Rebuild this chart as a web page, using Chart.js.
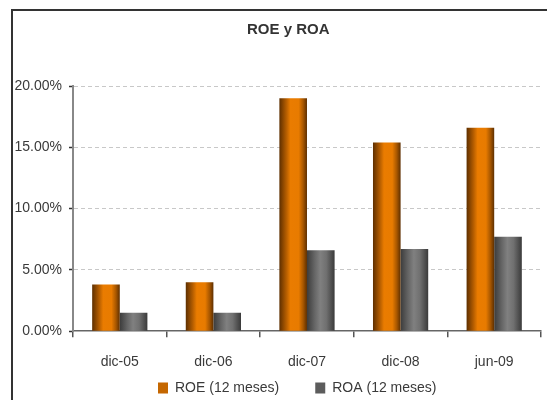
<!DOCTYPE html>
<html>
<head>
<meta charset="utf-8">
<script src="https://cdn.jsdelivr.net/npm/chart.js@4/dist/chart.umd.min.js"></script>
<style>
  html, body { margin: 0; padding: 0; background: #fff; overflow: hidden; }
</style>
</head>
<body>
<canvas id="c" width="547" height="400"></canvas>
<script>
// ---- data ----
const categories = ['dic-05', 'dic-06', 'dic-07', 'dic-08', 'jun-09'];
const roeValues = [3.8, 4.0, 19.0, 15.4, 16.6];
const roaValues = [1.5, 1.5, 6.6, 6.7, 7.7];
const seriesNames = ['ROE (12 meses)', 'ROA (12 meses)'];
const yTickValues = [0, 5, 10, 15, 20];
const chartTitle = 'ROE y ROA';

// ---- styles ----
const gradientStops = [
  [[0, '#5e2f00'], [0.25, '#b45d00'], [0.4, '#ea7c00'], [0.7, '#e87b00'], [0.86, '#a85700'], [1, '#5e2f00']],
  [[0, '#3c3c3c'], [0.28, '#666666'], [0.48, '#808080'], [0.7, '#707070'], [1, '#3a3a3a']]
];
const legendColors = ['#c56700', '#5c5c5c'];
const textColor = '#3a3a3a';
const FONT = 'Liberation Sans, Arial, sans-serif';

const barGradient = {
  id: 'barGradient',
  beforeDatasetsDraw(chart) {
    const ctx = chart.ctx;
    chart.data.datasets.forEach((ds, di) => {
      const meta = chart.getDatasetMeta(di);
      meta.data.forEach(el => {
        const p = el.getProps(['x', 'width'], true);
        const left = p.x - p.width / 2;
        const g = ctx.createLinearGradient(left, 0, left + p.width, 0);
        gradientStops[di].forEach(s => g.addColorStop(s[0], s[1]));
        el.options = Object.assign({}, el.options, { backgroundColor: g });
      });
    });
  }
};

const frame = {
  id: 'frame',
  beforeDraw(chart) {
    const ctx = chart.ctx;
    ctx.save();
    ctx.fillStyle = '#fff';
    ctx.fillRect(0, 0, chart.width, chart.height);
    ctx.strokeStyle = '#333';
    ctx.lineWidth = 2;
    ctx.beginPath();
    ctx.moveTo(12, chart.height);
    ctx.lineTo(12, 10);
    ctx.lineTo(chart.width, 10);
    ctx.stroke();
    ctx.restore();
  }
};

// offsets of the title and legend blocks relative to the default centred layout
const layoutTweaks = {
  id: 'layoutTweaks',
  afterLayout(chart) {
    const t = chart.titleBlock;
    if (t) { t.left += 14; t.right += 14; }
    const lg = chart.legend;
    if (lg) {
      lg.bottom = chart.height;
      lg.top = chart.height - 55;
      lg.height = 55;
      lg.left += 23; lg.right += 23;
    }
  }
};

new Chart(document.getElementById('c'), {
  type: 'bar',
  data: {
    labels: categories,
    datasets: [
      { label: seriesNames[0], data: roeValues, backgroundColor: legendColors[0], borderWidth: 0 },
      { label: seriesNames[1], data: roaValues, backgroundColor: legendColors[1], borderWidth: 0 }
    ]
  },
  options: {
    responsive: false,
    animation: false,
    events: [],
    layout: { padding: { left: 7.5, right: 6, top: 0, bottom: 0 } },
    datasets: { bar: { categoryPercentage: 0.59, barPercentage: 1.0 } },
    plugins: {
      title: {
        display: true,
        text: chartTitle,
        color: '#333',
        font: { family: FONT, size: 15, weight: 'bold' },
        padding: { top: 21, bottom: 47 }
      },
      legend: {
        position: 'bottom',
        maxHeight: 13,
        labels: {
          color: textColor,
          font: { family: FONT, size: 14 },
          boxWidth: 10,
          boxHeight: 11,
          padding: 36
        }
      },
      tooltip: { enabled: false }
    },
    scales: {
      x: {
        grid: { drawOnChartArea: false, drawTicks: true, tickLength: 6, tickColor: '#555', lineWidth: 1.5 },
        border: { display: true, color: '#666', width: 1.5 },
        ticks: { color: textColor, padding: 16.5, font: { family: FONT, size: 14 } }
      },
      y: {
        min: yTickValues[0],
        max: yTickValues[yTickValues.length - 1],
        afterBuildTicks(scale) { scale.ticks = yTickValues.map(v => ({ value: v })); },
        grid: {
          color: ctx => (ctx.tick && ctx.tick.value === 0) ? 'rgba(0,0,0,0)' : '#c8c8c8',
          lineWidth: 1,
          drawTicks: true,
          tickLength: 4,
          tickColor: '#333',
          tickWidth: 1.5
        },
        border: { display: true, color: '#888', width: 2, dash: [4, 3] },
        ticks: {
          color: textColor,
          padding: 7,
          font: { family: FONT, size: 14 },
          callback: v => v.toFixed(2) + '%'
        }
      }
    }
  },
  plugins: [frame, barGradient, layoutTweaks]
});
</script>
</body>
</html>
